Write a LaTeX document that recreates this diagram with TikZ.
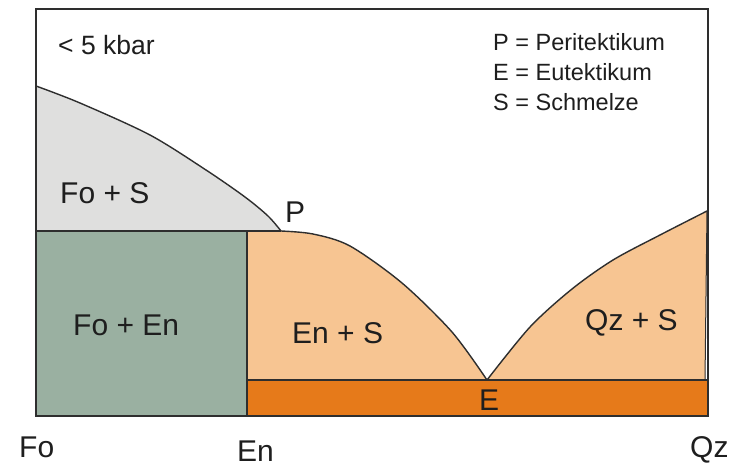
\documentclass[tikz,border=0pt]{standalone}
\usepackage{fontspec}
\setmainfont{Liberation Sans}
\definecolor{fogray}{HTML}{DFDFDE}
\definecolor{fogreen}{HTML}{9AB0A1}
\definecolor{peach}{HTML}{F7C592}
\definecolor{deeporange}{HTML}{E67A1A}
\definecolor{lc}{HTML}{2E2E2E}
\definecolor{tc}{HTML}{1E1E1E}
\begin{document}
\begin{tikzpicture}[x=1pt,y=-1pt,
  bnd/.style={draw=lc, line width=1.4pt},
  framebox/.style={draw=lc, line width=2pt},
  lbl/.style={font=\fontsize{30}{36}\selectfont, text=tc, inner sep=0pt, anchor=base west},
  leg/.style={font=\fontsize{23.5}{28}\selectfont, text=tc, inner sep=0pt, anchor=base west}]
\useasboundingbox (0,0) rectangle (733,466);
\fill[white] (0,0) rectangle (733,466);
% key points
\coordinate (TL) at (36,9);
\coordinate (BR) at (708,416);
\coordinate (A) at (36,86);
\coordinate (P) at (281,231);
\coordinate (PL) at (36,231);
\coordinate (EnT) at (247,231);
\coordinate (EnB) at (247,416);
\coordinate (EnE) at (247,380);
\coordinate (E) at (487,380);
\coordinate (QzT) at (707,211);
\coordinate (QzB) at (705,380);
\coordinate (BandR) at (708,380);
\def\foscurve{(36,86) (80,103) (150,135) (206,170) (245,197) (268,216) (281,231)}
\def\enscurve{(281,231) (313,234) (350,246) (402,283) (452,332) (487,380)}
\def\qzcurve{(487,380) (530,327) (572,289) (613,260) (660,235) (707,211)}
% fills
\fill[fogray] plot[smooth] coordinates {\foscurve} -- (PL) -- cycle;
\fill[fogreen] (PL) rectangle (EnB);
\fill[peach] (EnT) -- plot[smooth] coordinates {\enscurve} -- (EnE) -- cycle;
\fill[peach] plot[smooth] coordinates {\qzcurve} -- (QzB) -- (E) -- cycle;
\fill[deeporange] (EnE) rectangle (BR);
% boundaries
\draw[bnd] plot[smooth] coordinates {\foscurve};
\draw[bnd] plot[smooth] coordinates {\enscurve};
\draw[bnd] plot[smooth] coordinates {\qzcurve};
\draw[bnd] (PL) -- (P);
\draw[bnd] (EnT) -- (EnB);
\draw[bnd] (EnE) -- (BandR);
\draw[bnd, line width=1pt] (QzT) -- (QzB);
\draw[framebox] (TL) rectangle (BR);
% labels
\node[leg, font=\fontsize{26.5}{30}\selectfont] (kbar) at (58,54) {< 5 kbar};
\node[leg] (legP) at (493,50) {P = Peritektikum};
\node[leg] (legE) at (493,80) {E = Eutektikum};
\node[leg] (legS) at (493,110) {S = Schmelze};
\node[lbl] (fos) at (60,203) {Fo + S};
\node[lbl] (foen) at (73,335) {Fo + En};
\node[lbl] (ens) at (292,343) {En + S};
\node[lbl] (qzs) at (585,330) {Qz + S};
\node[lbl] (plab) at (285,222) {P};
\node[lbl] (elab) at (479,410) {E};
\node[lbl] (fo) at (19,457) {Fo};
\node[lbl] (en) at (237,461) {En};
\node[lbl] (qz) at (690,457) {Qz};
\end{tikzpicture}
\end{document}
